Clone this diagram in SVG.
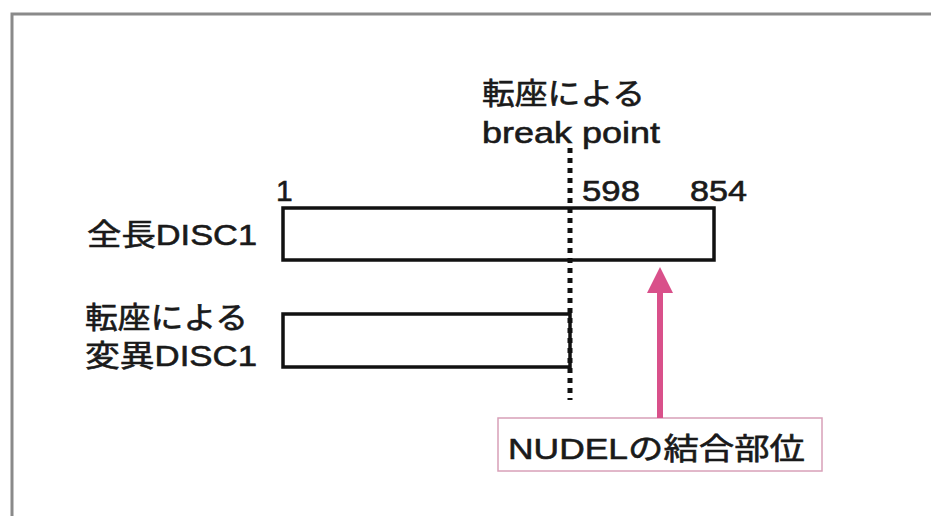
<svg xmlns="http://www.w3.org/2000/svg" width="931" height="516" viewBox="0 0 931 516">
<style>
.t{font-family:"Liberation Sans","Noto Sans CJK JP",sans-serif;font-size:30px;fill:#1a1a1a;stroke:#1a1a1a;stroke-width:0.6}
.bar{fill:#fff;stroke:#111;stroke-width:3.5}
</style>
<rect x="0" y="0" width="931" height="516" fill="#fff"/>
<path d="M12,516 V14 H931" fill="none" stroke="#8a8a8a" stroke-width="3"/>
<g id="break-label">
<text class="t" x="482" y="104" textLength="163" lengthAdjust="spacingAndGlyphs">転座による</text>
<text class="t" x="482" y="143" textLength="178" lengthAdjust="spacingAndGlyphs">break point</text>
</g>
<g id="full-disc1">
<text class="t" x="87" y="245" textLength="170" lengthAdjust="spacingAndGlyphs">全長DISC1</text>
<rect class="bar" x="283" y="208" width="431" height="52"/>
<text class="t" x="276" y="201">1</text>
<text class="t" x="582" y="201" textLength="58" lengthAdjust="spacingAndGlyphs">598</text>
<text class="t" x="690" y="201" textLength="57" lengthAdjust="spacingAndGlyphs">854</text>
</g>
<g id="mutant-disc1">
<text class="t" x="85" y="328" textLength="163" lengthAdjust="spacingAndGlyphs">転座による</text>
<text class="t" x="85" y="366" textLength="172" lengthAdjust="spacingAndGlyphs">変異DISC1</text>
<rect class="bar" x="283" y="314" width="287" height="53"/>
</g>
<g id="nudel-box">
<rect x="498" y="418" width="324" height="53" fill="#fff" stroke="#d8a0b8" stroke-width="1.5"/>
<text class="t" x="508" y="459" textLength="297" lengthAdjust="spacingAndGlyphs">NUDELの結合部位</text>
</g>
<g id="connectors">
<line x1="570" y1="148" x2="570" y2="400" stroke="#111" stroke-width="5" stroke-dasharray="5 5"/>
<line x1="660" y1="418" x2="660" y2="288" stroke="#d9508a" stroke-width="6"/>
<polygon points="660,267 647,293 673,293" fill="#d9508a"/>
</g>
</svg>
